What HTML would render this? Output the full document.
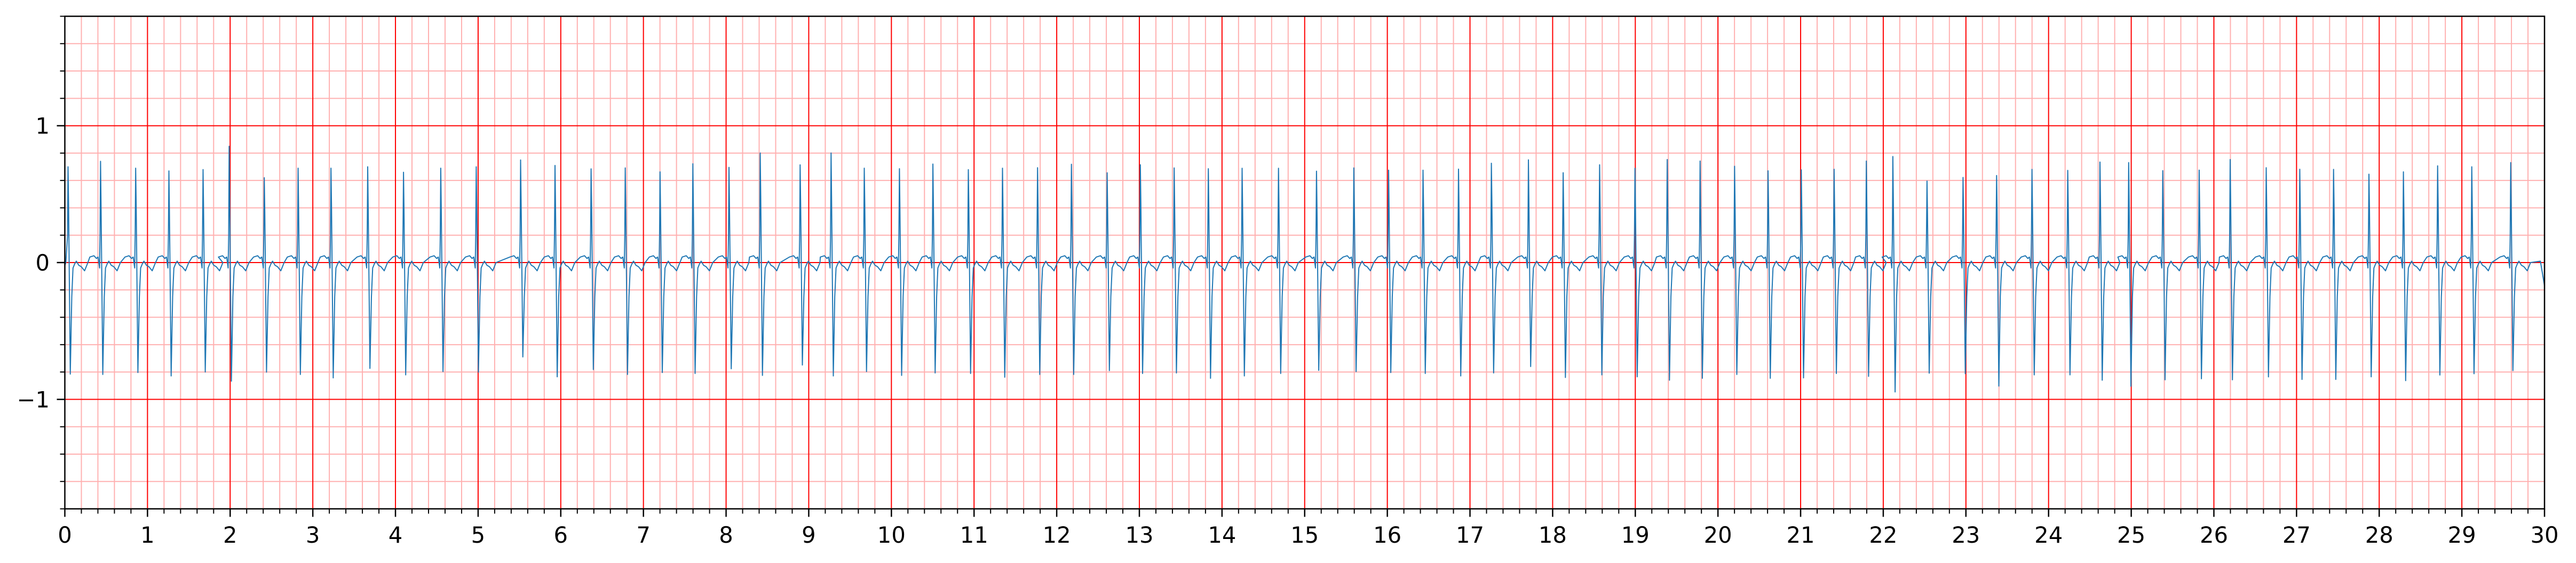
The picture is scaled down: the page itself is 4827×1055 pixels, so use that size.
<!DOCTYPE html>
<html><head><meta charset="utf-8"><style>
html,body{margin:0;padding:0;background:#fff;}
svg{display:block;font-family:"DejaVu Sans","Liberation Sans",sans-serif;}
</style></head><body>
<svg id="chart" width="4827" height="1055" viewBox="0 0 4827 1055" xmlns="http://www.w3.org/2000/svg">
<g id="grid"></g>
<path id="trace" fill="none" stroke="#1f77b4" stroke-width="2" stroke-linejoin="round"></path>
<g id="axes"></g>
</svg>
<script>
// R-peak times (s), R amplitudes and S amplitudes
const rTimes = [0.039,0.432,0.857,1.259,1.672,1.988,2.413,2.822,3.22,3.664,4.097,4.548,4.977,5.514,5.93,
6.367,6.78,7.201,7.598,8.035,8.413,8.896,9.27,9.672,10.097,10.502,10.931,11.344,11.768,
12.178,12.61,13.012,13.421,13.834,14.243,14.683,15.143,15.595,16.015,16.432,16.861,17.259,17.707,
18.127,18.568,18.996,19.386,19.784,20.201,20.606,21.008,21.405,21.795,22.116,22.529,22.965,23.371,23.799,
24.232,24.622,24.969,25.382,25.822,26.197,26.633,27.039,27.448,27.876,28.293,28.707,29.12,29.591];
const rAmps = [0.70,0.74,0.69,0.67,0.68,0.85,0.62,0.69,0.69,0.70,0.66,0.69,0.70,0.75,0.71,
0.685,0.692,0.663,0.722,0.696,0.801,0.714,0.801,0.69,0.686,0.72,0.679,0.69,0.693,
0.719,0.656,0.715,0.692,0.686,0.689,0.689,0.668,0.692,0.675,0.675,0.683,0.726,0.751,
0.657,0.715,0.689,0.753,0.742,0.704,0.671,0.678,0.682,0.742,0.775,0.596,0.622,0.636,0.681,
0.674,0.735,0.731,0.672,0.676,0.753,0.693,0.682,0.681,0.646,0.663,0.707,0.70,0.731];
const sAmps = [-0.815,-0.818,-0.804,-0.829,-0.80,-0.867,-0.801,-0.818,-0.843,-0.774,-0.821,-0.797,-0.801,-0.69,-0.835,
-0.782,-0.818,-0.804,-0.811,-0.776,-0.825,-0.749,-0.829,-0.797,-0.825,-0.807,-0.811,-0.838,-0.818,
-0.818,-0.79,-0.811,-0.807,-0.846,-0.829,-0.811,-0.788,-0.797,-0.804,-0.811,-0.829,-0.807,-0.76,
-0.84,-0.821,-0.835,-0.86,-0.846,-0.818,-0.846,-0.843,-0.811,-0.832,-0.946,-0.808,-0.812,-0.903,-0.821,
-0.821,-0.86,-0.904,-0.857,-0.849,-0.857,-0.836,-0.854,-0.854,-0.835,-0.863,-0.822,-0.813,-0.79];
const endValue = -0.17;
const xMajorTicks = [0,1,2,3,4,5,6,7,8,9,10,11,12,13,14,15,16,17,18,19,20,21,22,23,24,25,26,27,28,29,30];
const yMajorTicks = [-1,0,1];
const yTickLabels = ["\u22121","0","1"];

const X0=121.5, X1=4768, YT=30.5, YB=953.5, XMIN=0, XMAX=30, YMIN=-1.8, YMAX=1.8;
const sx = t => X0 + (t-XMIN)/(XMAX-XMIN)*(X1-X0);
const sy = v => YB - (v-YMIN)/(YMAX-YMIN)*(YB-YT);
const NS="http://www.w3.org/2000/svg";
function mk(parent, tag, attrs){const e=document.createElementNS(NS,tag);for(const k in attrs)e.setAttribute(k,attrs[k]);parent.appendChild(e);return e;}

const grid=document.getElementById('grid');
// minor grid
for(let i=0;i<=150;i++){const t=i*0.2; if(i%5===0) continue;
  const l=mk(grid,'line',{x1:sx(t),x2:sx(t),y1:YT,y2:YB,stroke:'#ffb0b0','stroke-width':2});
  
  }
for(let i=-9;i<=9;i++){ if(i%5===0) continue; const v=i*0.2;
  const l=mk(grid,'line',{x1:X0,x2:X1,y1:sy(v),y2:sy(v),stroke:'#ffb0b0','stroke-width':2});
  
  }
xMajorTicks.forEach(t=>{const l=mk(grid,'line',{x1:sx(t),x2:sx(t),y1:YT,y2:YB,stroke:'#ff0000','stroke-width':2});
  
  });
yMajorTicks.forEach(v=>{const l=mk(grid,'line',{x1:X0,x2:X1,y1:sy(v),y2:sy(v),stroke:'#ff0000','stroke-width':2});
  
  });

// build trace
const pts=[];
function add(t,v){ if(t>=XMIN && t<=XMAX) pts.push([t,v]); }
add(0,-0.02); add(0.012,0.0);
for(let i=0;i<rTimes.length;i++){
  const r=rTimes[i], nx = i+1<rTimes.length ? rTimes[i+1] : 30.4;
  const I = nx - r;
  if(i>0){ add(r-0.03,0.04); add(r-0.012,-0.04); }
  add(r-0.006,0.2); add(r,rAmps[i]); add(r+0.006,rAmps[i]*0.6);
  add(r+0.027,sAmps[i]); add(r+0.045,-0.25); add(r+0.06,-0.04);
  add(r+0.08,-0.01); add(r+0.1,0.01); add(r+0.13,-0.02);
  add(r+0.16,-0.03); add(r+0.2,-0.06); add(r+0.24,0.0);
  add(r+I-0.13,0.04); add(r+I-0.08,0.05); add(r+I-0.05,0.03);
}
add(29.95,0.01); add(30,endValue);
document.getElementById('trace').setAttribute('d', pts.map((p,i)=>(i?'L':'M')+sx(p[0]).toFixed(1)+' '+sy(p[1]).toFixed(1)).join(''));

// axes
const ax=document.getElementById('axes');
const sp=mk(ax,'rect',{x:X0,y:YT,width:X1-X0,height:YB-YT,fill:'none',stroke:'#000','stroke-width':2.5});


for(let i=0;i<=150;i++){const t=i*0.2, maj=i%5===0;
  const l=mk(ax,'line',{x1:sx(t),x2:sx(t),y1:YB,y2:YB+(maj?15:9),stroke:'#000','stroke-width':maj?2.5:2});
  
  }
xMajorTicks.forEach(t=>{const tx=mk(ax,'text',{x:sx(t),y:1017,'text-anchor':'middle','font-size':41.7,fill:'#000'});
  tx.textContent=String(t);
  
  });
for(let i=-9;i<=9;i++){const v=i*0.2, maj=i%5===0;
  const l=mk(ax,'line',{x1:X0,x2:X0-(maj?15:9),y1:sy(v),y2:sy(v),stroke:'#000','stroke-width':maj?2.5:2});
  
  }
yMajorTicks.forEach((v,i)=>{const tx=mk(ax,'text',{x:93,y:sy(v)+15,'text-anchor':'end','font-size':41.7,fill:'#000'});
  tx.textContent=yTickLabels[i];
  
  });
</script>
</body></html>
